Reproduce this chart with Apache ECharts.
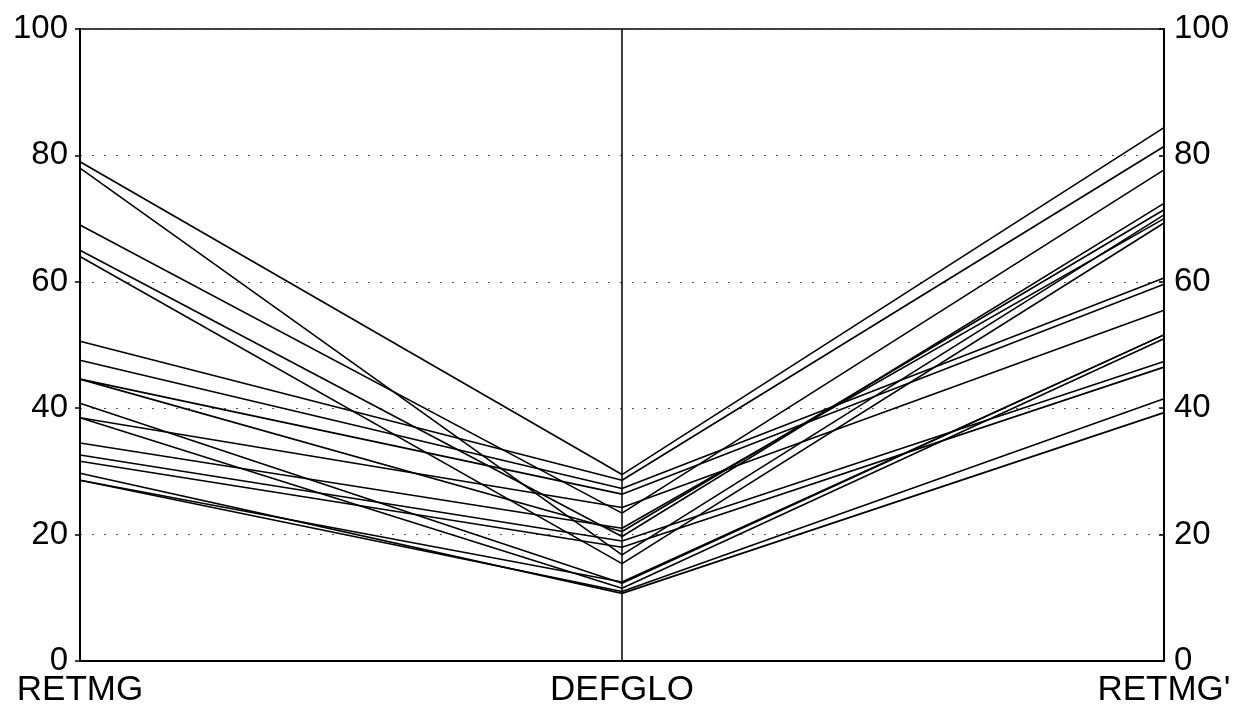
<!DOCTYPE html>
<html>
<head>
<meta charset="utf-8">
<script src="https://cdn.jsdelivr.net/npm/echarts@6/dist/echarts.min.js"></script>
<style>
html,body{margin:0;padding:0;background:#fff;}
#chart{width:1239px;height:711px;}
</style>
</head>
<body>
<div id="chart"></div>
<script>
const categories = ['RETMG', 'DEFGLO', "RETMG'"];
const retmg      = [79, 78, 69, 65, 64, 50.6, 47.6, 44.6, 44.6, 40.8, 38.5, 38.5, 34.5, 32.6, 31.6, 29.7, 28.6, 28.6];
const defglo     = [29.5, 16.8, 23.4, 19.7, 15.4, 28.6, 27.3, 26.4, 20.5, 12.3, 24.3, 11.5, 21, 19, 18, 10.7, 11, 12.5];
const retmgPrime = [84.4, 70.6, 77.7, 72.4, 69.3, 81.4, 60.6, 59.6, 71.4, 51.6, 55.5, 51.0, 70.0, 47.4, 46.5, 39.3, 41.5, 51.6];
const yTicks = [0, 20, 40, 60, 80, 100];

const chart = echarts.init(document.getElementById('chart'), null, {renderer: 'canvas'});
const series = retmg.map((v, i) => ({
  type: 'line',
  data: [retmg[i], defglo[i], retmgPrime[i]],
  symbol: 'none',
  silent: true,
  lineStyle: {color: '#000', width: 1.6},
  animation: false
}));

const fontFamily = '"Liberation Sans", Arial, sans-serif';
function yAxis(pos, split) {
  return {
    type: 'value',
    position: pos,
    min: yTicks[0],
    max: yTicks[yTicks.length - 1],
    interval: yTicks[1] - yTicks[0],
    axisLine: {show: true, lineStyle: {color: '#000', width: 2}},
    axisTick: {show: true, inside: pos === 'right', length: 5, lineStyle: {color: '#000', width: 1.5}},
    axisLabel: {color: '#000', fontSize: 33, fontFamily: fontFamily, margin: pos === 'left' ? 12 : 10},
    splitLine: {show: split, lineStyle: {color: '#555', type: [2, 10], width: 1.2}}
  };
}

chart.setOption({
  backgroundColor: '#fff',
  animation: false,
  grid: {left: 80, right: 75, top: 29, bottom: 50, show: true, borderColor: '#000', borderWidth: 1.5, backgroundColor: 'transparent'},
  xAxis: {
    type: 'category',
    data: categories,
    boundaryGap: false,
    axisLine: {show: true, lineStyle: {color: '#000', width: 2}},
    axisTick: {show: false},
    axisLabel: {color: '#000', fontSize: 35, fontFamily: fontFamily, margin: 12, interval: 0},
    splitLine: {show: true, lineStyle: {color: '#000', width: 1.5}}
  },
  yAxis: [yAxis('left', true), yAxis('right', false)],
  series: series
});
</script>
</body>
</html>
